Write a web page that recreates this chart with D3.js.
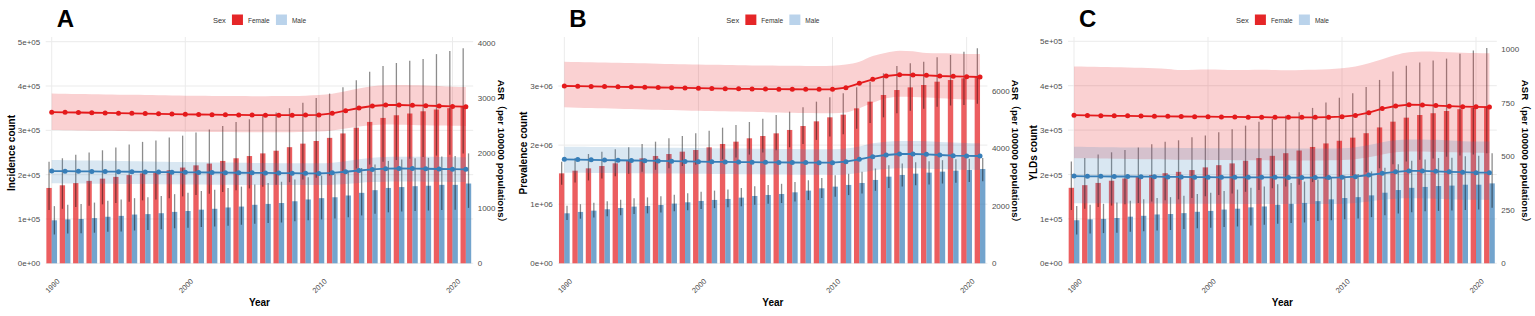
<!DOCTYPE html>
<html>
<head>
<meta charset="utf-8">
<script src="https://cdn.jsdelivr.net/npm/d3@7"></script>
<style>
  body { margin: 0; background: #fff; }
  svg { display: block; font-family: "Liberation Sans", Arial, "Noto Sans CJK SC", sans-serif; }
</style>
</head>
<body>
<script>
// years on the x axis
const years = [1990,1991,1992,1993,1994,1995,1996,1997,1998,1999,2000,2001,2002,2003,2004,2005,
               2006,2007,2008,2009,2010,2011,2012,2013,2014,2015,2016,2017,2018,2019,2020,2021];
const yearTicks = [1990, 2000, 2010, 2020];

// A - incidence counts (thousands), bar value / lower / upper
const incF   = [170,176,181,186,191,195,199,203,206,210,216,221,225,231,237,242,248,254,262,270,276,283,293,306,319,328,334,338,343,347,350,353];
const incFLo = [120,123,127,130,133,136,139,142,144,147,151,154,157,161,165,169,173,177,183,189,193,198,205,214,223,229,233,236,240,243,245,248];
const incFHi = [229,237,245,250,255,261,268,274,277,284,288,295,302,310,319,325,333,340,350,362,373,383,397,413,432,445,452,457,461,472,479,485];
const incM   = [97,99,100,102,105,107,110,111,113,116,118,121,123,126,128,132,134,136,140,144,147,149,153,159,165,170,172,174,175,177,177,180];
const incMLo = [65,67,68,69,71,72,74,75,77,79,80,82,83,85,87,89,91,92,95,97,99,101,104,108,112,115,117,118,119,120,121,125];
const incMHi = [129,132,134,137,141,144,147,149,152,156,159,163,166,170,173,178,181,184,189,194,198,201,207,215,223,231,234,237,238,241,242,248];

// A - incidence ASR per 100000
const asrIncF   = [2740,2738,2734,2730,2727,2723,2719,2714,2710,2705,2701,2698,2695,2692,2690,2688,2686,2685,2686,2688,2690,2719,2767,2816,2852,2870,2870,2864,2858,2852,2845,2840];
const asrIncFLo = [2415,2412,2408,2405,2402,2399,2396,2393,2390,2388,2386,2384,2382,2380,2378,2377,2376,2376,2377,2380,2390,2410,2445,2480,2505,2515,2512,2508,2503,2498,2494,2490];
const asrIncFHi = [3080,3075,3070,3066,3062,3058,3054,3050,3046,3043,3040,3037,3035,3033,3032,3031,3031,3032,3035,3040,3050,3075,3120,3170,3210,3230,3232,3230,3225,3215,3200,3195];
const asrIncM   = [1673,1671,1668,1666,1664,1662,1660,1657,1655,1652,1650,1648,1646,1644,1642,1640,1638,1636,1634,1632,1630,1640,1660,1683,1703,1716,1720,1718,1714,1710,1706,1704];
const asrIncMLo = [1450,1448,1446,1444,1442,1440,1438,1436,1434,1432,1430,1428,1426,1424,1422,1421,1420,1419,1418,1418,1418,1425,1440,1458,1472,1480,1482,1481,1479,1477,1475,1474];
const asrIncMHi = [1873,1870,1866,1862,1858,1854,1850,1846,1842,1838,1835,1832,1829,1826,1823,1820,1818,1816,1814,1813,1813,1825,1850,1885,1912,1928,1933,1932,1930,1927,1924,1922];

// B - prevalence counts (thousands)
const prvF   = [1522,1567,1607,1646,1692,1737,1776,1816,1849,1889,1917,1962,2019,2058,2115,2154,2199,2256,2323,2402,2470,2515,2622,2735,2848,2932,2977,3017,3073,3101,3130,3158];
const prvFLo = [1330,1368,1402,1436,1475,1514,1548,1582,1610,1645,1669,1708,1757,1791,1840,1874,1913,1963,2020,2088,2146,2185,2277,2374,2470,2541,2580,2613,2650,2670,2680,2700];
const prvFHi = [1720,1776,1849,1889,1929,1962,2019,2058,2115,2154,2199,2244,2295,2340,2391,2447,2509,2566,2639,2735,2808,2876,2977,3073,3214,3338,3384,3412,3485,3525,3581,3637];
const prvM   = [846,869,891,914,936,959,970,987,1010,1032,1055,1072,1089,1111,1139,1156,1173,1201,1230,1269,1297,1326,1359,1410,1466,1495,1517,1534,1551,1568,1579,1596];
const prvMLo = [733,755,775,795,815,835,845,860,880,898,918,933,948,967,991,1006,1020,1045,1070,1104,1128,1154,1182,1227,1275,1300,1320,1335,1350,1364,1374,1388];
const prvMHi = [975,1000,1025,1050,1075,1100,1115,1135,1160,1185,1210,1230,1250,1275,1305,1325,1345,1375,1405,1445,1490,1515,1550,1605,1660,1690,1710,1728,1745,1760,1770,1780];

// B - prevalence ASR per 100000
const asrPrvF   = [6163,6157,6150,6143,6136,6128,6120,6112,6104,6096,6088,6080,6072,6065,6060,6056,6053,6050,6048,6048,6050,6105,6256,6395,6511,6557,6545,6534,6511,6499,6487,6476];
const asrPrvFLo = [5421,5410,5398,5386,5374,5362,5350,5338,5326,5315,5305,5295,5285,5275,5265,5255,5245,5235,5226,5219,5213,5240,5387,5583,5735,5792,5780,5760,5735,5715,5695,5676];
const asrPrvFHi = [7009,7000,6990,6980,6970,6960,6950,6940,6930,6920,6910,6900,6893,6886,6880,6874,6868,6864,6860,6858,6870,6910,7009,7206,7321,7391,7370,7310,7298,7290,7280,7275];
const asrPrvM   = [3614,3606,3598,3590,3582,3574,3566,3558,3550,3542,3533,3528,3523,3518,3514,3510,3507,3504,3501,3499,3498,3533,3614,3707,3765,3799,3799,3788,3765,3741,3733,3730];
const asrPrvMLo = [3150,3146,3142,3138,3134,3130,3126,3122,3118,3114,3110,3106,3102,3098,3094,3090,3086,3082,3078,3074,3069,3090,3150,3230,3280,3301,3300,3290,3275,3260,3250,3243];
const asrPrvMHi = [4054,4050,4045,4040,4035,4030,4025,4020,4015,4010,4005,4000,3995,3990,3985,3980,3976,3972,3968,3965,3962,3990,4060,4170,4225,4251,4250,4240,4220,4195,4180,4170];

// C - YLDs counts: the bars in the figure are the same as panel A
const yldF = incF, yldFLo = incFLo, yldFHi = incFHi;
const yldM = incM, yldMLo = incMLo, yldMHi = incMHi;

// C - YLDs ASR per 100000
const asrYldF   = [691,690,689,688,688,687,686,686,685,684,684,683,683,682,682,681,681,681,681,682,684,690,703,722,734,740,739,736,733,731,730,729];
const asrYldFLo = [490,490,489,488,487,486,485,484,483,483,482,482,481,481,481,480,480,480,480,481,482,486,495,508,518,522,522,520,518,517,516,515];
const asrYldFHi = [918,917,916,915,914,912,910,907,902,903,904,903,902,902,903,902,901,902,903,905,910,918,933,952,972,985,988,987,985,983,981,980];
const asrYldM   = [407,406,406,405,405,404,404,403,403,402,402,401,401,401,401,401,400,400,400,400,401,404,412,420,427,431,431,429,427,425,423,423];
const asrYldMLo = [280,280,280,279,279,279,279,278,278,278,278,278,277,277,277,277,277,277,277,277,277,281,288,296,301,303,303,301,299,297,296,296];
const asrYldMHi = [544,543,542,541,540,540,539,539,538,538,537,537,537,536,536,536,536,536,536,536,537,542,552,565,574,578,578,576,573,570,568,568];

// axis ticks and labels
const countTicksSmall  = [0, 100, 200, 300, 400, 500];
const countLabelsSmall = ["0e+00", "1e+05", "2e+05", "3e+05", "4e+05", "5e+05"];
const countTicksLarge  = [0, 1000, 2000, 3000];
const countLabelsLarge = ["0e+00", "1e+06", "2e+06", "3e+06"];
const asrTicksA = [0, 1000, 2000, 3000, 4000];
const asrTicksB = [0, 2000, 4000, 6000];
const asrTicksC = [0, 250, 500, 750, 1000];

const sexLabels = ["Female", "Male"];

const FEMALE = "#E41A1C", MALE = "#377EB8";
const TOP = 37, BASE = 263.3;

const svg = d3.select("body").append("svg")
    .attr("width", 1535)
    .attr("height", 316);

const panels = [
  { tag: "A", left: 45.7, right: 473.2, title: "Incidence count",
    f: incF, fLo: incFLo, fHi: incFHi, m: incM, mLo: incMLo, mHi: incMHi,
    af: asrIncF, afLo: asrIncFLo, afHi: asrIncFHi, am: asrIncM, amLo: asrIncMLo, amHi: asrIncMHi,
    cTicks: countTicksSmall, cLabels: countLabelsSmall, cTopY: 41.7,
    aTicks: asrTicksA, aTopY: 42.7 },
  { tag: "B", left: 558.3, right: 987.4, title: "Prevalence count",
    f: prvF, fLo: prvFLo, fHi: prvFHi, m: prvM, mLo: prvMLo, mHi: prvMHi,
    af: asrPrvF, afLo: asrPrvFLo, afHi: asrPrvFHi, am: asrPrvM, amLo: asrPrvMLo, amHi: asrPrvMHi,
    cTicks: countTicksLarge, cLabels: countLabelsLarge, cTopY: 86,
    aTicks: asrTicksB, aTopY: 90.7 },
  { tag: "C", left: 1068, right: 1496.8, title: "YLDs count",
    f: yldF, fLo: yldFLo, fHi: yldFHi, m: yldM, mLo: yldMLo, mHi: yldMHi,
    af: asrYldF, afLo: asrYldFLo, afHi: asrYldFHi, am: asrYldM, amLo: asrYldMLo, amHi: asrYldMHi,
    cTicks: countTicksSmall, cLabels: countLabelsSmall, cTopY: 41.3,
    aTicks: asrTicksC, aTopY: 49 }
];

function drawPanel(p) {
  const g = svg.append("g");
  const x = d3.scaleLinear().domain([1989.55, 2021.55]).range([p.left, p.right]);
  const y = d3.scaleLinear().domain([0, d3.max(p.cTicks)]).range([BASE, p.cTopY]);
  const y2 = d3.scaleLinear().domain([0, d3.max(p.aTicks)]).range([BASE, p.aTopY]);
  const bw = x(1990.4) - x(1990);

  // grid
  g.append("g").selectAll("line").data(p.cTicks).join("line")
      .attr("x1", p.left).attr("x2", p.right)
      .attr("y1", d => y(d)).attr("y2", d => y(d))
      .attr("stroke", "#ebebeb").attr("stroke-width", 1);
  g.append("g").selectAll("line").data(yearTicks).join("line")
      .attr("x1", d => x(d)).attr("x2", d => x(d))
      .attr("y1", TOP).attr("y2", BASE)
      .attr("stroke", "#ebebeb").attr("stroke-width", 1);

  const idx = d3.range(years.length);

  // bars
  g.append("g").selectAll("rect").data(idx).join("rect")
      .attr("x", i => x(years[i]) - bw).attr("width", bw)
      .attr("y", i => y(p.f[i])).attr("height", i => BASE - y(p.f[i]))
      .attr("fill", FEMALE).attr("fill-opacity", 0.7);
  g.append("g").selectAll("rect").data(idx).join("rect")
      .attr("x", i => x(years[i])).attr("width", bw)
      .attr("y", i => y(p.m[i])).attr("height", i => BASE - y(p.m[i]))
      .attr("fill", MALE).attr("fill-opacity", 0.7);

  // error bars
  g.append("g").selectAll("line").data(idx).join("line")
      .attr("x1", i => x(years[i]) - bw / 2).attr("x2", i => x(years[i]) - bw / 2)
      .attr("y1", i => y(p.fLo[i])).attr("y2", i => y(p.fHi[i]))
      .attr("stroke", "#000").attr("stroke-opacity", 0.45).attr("stroke-width", 1.3);
  g.append("g").selectAll("line").data(idx).join("line")
      .attr("x1", i => x(years[i]) + bw / 2).attr("x2", i => x(years[i]) + bw / 2)
      .attr("y1", i => y(p.mLo[i])).attr("y2", i => y(p.mHi[i]))
      .attr("stroke", "#000").attr("stroke-opacity", 0.45).attr("stroke-width", 1.3);

  // ASR ribbons
  const area = (lo, hi) => d3.area().curve(d3.curveMonotoneX)
      .x(i => x(years[i])).y0(i => y2(lo[i])).y1(i => y2(hi[i]));
  g.append("path").datum(idx).attr("d", area(p.afLo, p.afHi))
      .attr("fill", FEMALE).attr("fill-opacity", 0.2);
  g.append("path").datum(idx).attr("d", area(p.amLo, p.amHi))
      .attr("fill", MALE).attr("fill-opacity", 0.19);

  // ASR lines + points
  [[p.af, FEMALE], [p.am, MALE]].forEach(([vals, col]) => {
    g.append("path").datum(idx)
        .attr("d", d3.line().x(i => x(years[i])).y(i => y2(vals[i])))
        .attr("fill", "none").attr("stroke", col).attr("stroke-width", 1.8);
    g.append("g").selectAll("circle").data(idx).join("circle")
        .attr("cx", i => x(years[i])).attr("cy", i => y2(vals[i]))
        .attr("r", 2.5).attr("fill", col);
  });

  // left axis
  const ax = g.append("g").attr("transform", `translate(${p.left},0)`)
      .call(d3.axisLeft(y).tickValues(p.cTicks).tickFormat((d, i) => p.cLabels[i]).tickSize(0).tickPadding(5.5));
  ax.select(".domain").remove();
  ax.selectAll("text").attr("font-size", 8).attr("fill", "#4d4d4d").attr("font-family", null);

  // right axis
  const ar = g.append("g").attr("transform", `translate(${p.right},0)`)
      .call(d3.axisRight(y2).tickValues(p.aTicks).tickFormat(d3.format("d")).tickSize(0).tickPadding(4.5));
  ar.select(".domain").remove();
  ar.selectAll("text").attr("font-size", 8).attr("fill", "#4d4d4d").attr("font-family", null);

  // bottom axis
  const ab = g.append("g").attr("transform", `translate(0,${BASE})`)
      .call(d3.axisBottom(x).tickValues(yearTicks).tickFormat(d3.format("d")).tickSize(0));
  ab.select(".domain").remove();
  ab.selectAll("text")
      .attr("x", 0).attr("y", 0).attr("dy", "0.75em")
      .attr("text-anchor", "end")
      .attr("transform", "translate(4,14.5) rotate(-45)")
      .attr("font-size", 7.5).attr("fill", "#4d4d4d").attr("font-family", null);

  // titles
  const cx = (p.left + p.right) / 2;
  g.append("text").attr("x", cx).attr("y", 306).attr("text-anchor", "middle")
      .attr("font-size", 10).attr("font-weight", "bold").text("Year");
  g.append("text").attr("transform", `translate(${p.left - 31},153) rotate(-90)`)
      .attr("text-anchor", "middle").attr("font-size", 10).attr("font-weight", "bold").text(p.title);
  g.append("text").attr("transform", `translate(${p.right + 25},153.5) rotate(90)`)
      .attr("text-anchor", "middle").attr("font-size", 9.7).attr("font-weight", "bold")
      .text("ASR（per 100000 populations）");
  g.append("text").attr("x", p.left + 11).attr("y", 27)
      .attr("font-size", 24).attr("font-weight", "bold").text(p.tag);

  // legend
  const lg = g.append("g").attr("transform", `translate(${cx},0)`);
  lg.append("text").attr("x", -46.5).attr("y", 23).attr("font-size", 7.5).attr("fill", "#333").text("Sex");
  const keys = [{ dx: -27.5, fill: FEMALE, op: 0.95 }, { dx: 16.5, fill: "#a9c8e6", op: 0.8 }];
  keys.forEach((k, i) => {
    lg.append("rect").attr("x", k.dx).attr("y", 14.5).attr("width", 11).attr("height", 10.5)
        .attr("fill", k.fill).attr("fill-opacity", k.op);
    lg.append("text").attr("x", k.dx + 16).attr("y", 22.5).attr("font-size", 6.5)
        .attr("fill", "#333").text(sexLabels[i]);
  });
}

panels.forEach(drawPanel);
</script>
</body>
</html>
